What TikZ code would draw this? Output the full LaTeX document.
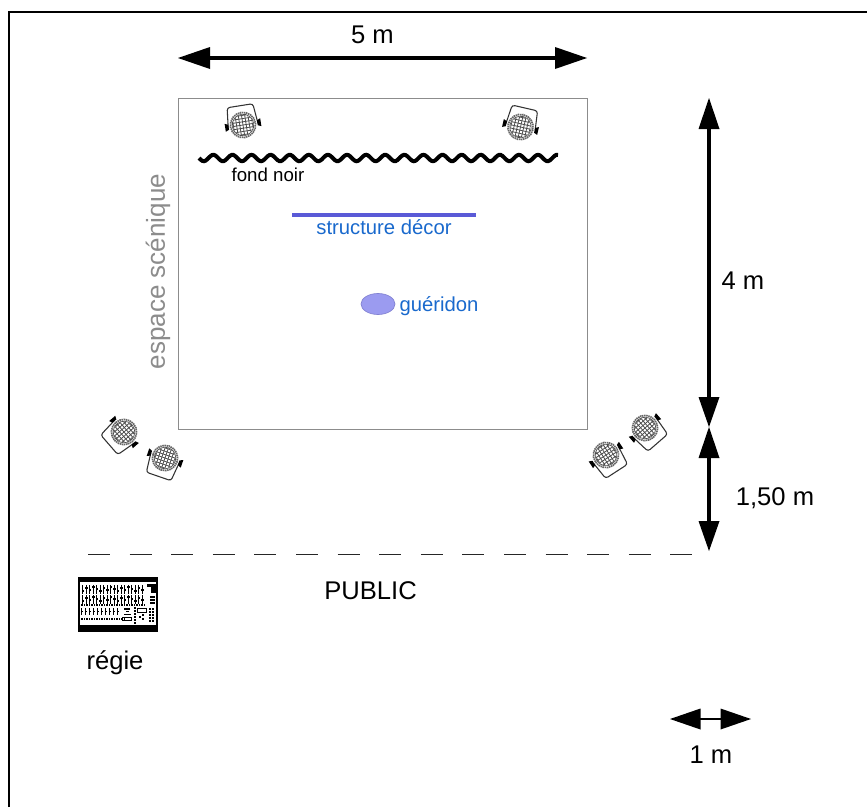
\documentclass[tikz,border=0pt]{standalone}
\usepackage{fontspec}
\setmainfont{Liberation Sans}
\newcommand{\W}{867}
\newcommand{\Hh}{807}
\definecolor{bluetext}{RGB}{25,105,205}
\tikzset{
 x=0.75pt,y=-0.75pt,
 lab/.style={font=\fontsize{19.2pt}{22pt}\selectfont,inner sep=0pt},
 bluelab/.style={font=\fontsize{15.2pt}{18pt}\selectfont,inner sep=0pt,text=bluetext},
 bigarrow/.style={line width=2.5pt,black},
 head/.style={fill=black,draw=none},
}
% projector: #1 x, #2 y, #3 rotation
\newcommand{\spot}[3]{%
 \begin{scope}[shift={(#1,#2)},rotate=#3]
  \draw[line width=0.8pt,black!80,rounded corners=2pt,fill=white] (-15,0) -- (-13,-19.5) -- (13,-19.5) -- (15,0);
  \fill[white] (0,0) circle (13.5);
  \fill[black] (-18,-4) -- (-14.5,-2.5) -- (-14.5,2.5) -- (-18,4) -- cycle;
  \fill[black] (18,-4) -- (14.5,-2.5) -- (14.5,2.5) -- (18,4) -- cycle;
  \draw[line width=1.3pt,black!60,dash pattern=on 1.1pt off 0.5pt] (0,0) circle (12.6);
  \draw[line width=0.5pt,black!70] (0,0) circle (10.8);
  \begin{scope}
   \clip (0,0) circle (10.2);
   \foreach \k in {-9.6,-6.4,...,9.7} {
     \draw[line width=0.6pt,black!70] (\k,-11) -- (\k,11);
     \draw[line width=0.6pt,black!70] (-11,\k) -- (11,\k);
   }
  \end{scope}
 \end{scope}}
\begin{document}
\begin{tikzpicture}
\useasboundingbox (0,0) rectangle (\W,\Hh);
\fill[white] (0,0) rectangle (\W,\Hh);
% frame
\draw[line width=1.6pt,black] (9.2,807) -- (9.2,12.2) -- (867,12.2);
% stage
\node[draw=black!45,line width=0.9pt,minimum width=408.5*0.75pt,minimum height=331*0.75pt,inner sep=0pt,anchor=north west] (stage) at (178,98) {};
% dimension arrows
\coordinate (a1) at (178,58); \coordinate (a2) at (587,58);
\draw[bigarrow] (205,58) -- (560,58);
\fill[head] (a1) -- (210,47) -- (210,69) -- cycle;
\fill[head] (a2) -- (555,47) -- (555,69) -- cycle;
\node[lab] (t5) at (372.5,35) {5 m};
\coordinate (b1) at (709,98); \coordinate (b2) at (709,427); \coordinate (b3) at (709,551);
\draw[bigarrow] (709,120) -- (709,405);
\fill[head] (b1) -- (698.5,129) -- (719.5,129) -- cycle;
\fill[head] (b2) -- (698.5,397) -- (719.5,397) -- cycle;
\draw[bigarrow] (709,450) -- (709,530);
\fill[head] (b2) -- (698.5,458) -- (719.5,458) -- cycle;
\fill[head] (b3) -- (698.5,521) -- (719.5,521) -- cycle;
\node[lab] (t4) at (743,281) {4 m};
\node[lab] (t15) at (775,498) {1,50 m};
% public line
\coordinate (d1) at (88,554); \coordinate (d2) at (692,554);
\draw[line width=0.75pt,black!85,dash pattern=on 16.5pt off 14.7pt] (d1) -- (d2);
\node[lab] (tp) at (370.5,591) {PUBLIC};
% scale
\coordinate (s1) at (670,719); \coordinate (s2) at (751,719);
\draw[line width=2.2pt] (695,719) -- (726,719);
\fill[head] (s1) -- (700.5,708.5) -- (700.5,729.5) -- cycle;
\fill[head] (s2) -- (720.5,708.5) -- (720.5,729.5) -- cycle;
\node[lab] (t1) at (711,755) {1 m};
% fond noir
\draw[line width=3pt,black,line cap=butt] plot[domain=199:558,samples=220] (\x,{158+3.2*sin((\x-199)/19.1*360)});
\node[font=\fontsize{14pt}{17pt}\selectfont,inner sep=0pt] (tf) at (268,175) {fond noir};
% decor
\draw[line width=2.4pt,color={rgb,255:red,90;green,90;blue,215}] (292,215) -- (476,215);
\node[bluelab] (ts) at (384,227.5) {structure décor};
\fill[fill={rgb,255:red,155;green,155;blue,240}] (378,304) ellipse (17 and 10.5);
\draw[line width=0.5pt,color={rgb,255:red,130;green,130;blue,210}] (378,304) ellipse (17 and 10.5);
\node[bluelab] (tg) at (439,306) {guéridon};
\node[lab,font=\fontsize{19.5pt}{24pt}\selectfont,text=black!45,rotate=90] (te) at (158,271.5) {espace scénique};
% projectors
\spot{243}{125}{9}
\spot{520.5}{127}{-13}
\spot{124}{432}{131}
\spot{165}{458}{161}
\spot{645}{428}{-139}
\spot{606}{455}{-147}
% regie
\node[lab] (tr) at (115,663) {régie};
\fill[black] (78,577) rectangle (158,632);
\fill[white] (80,582) rectangle (156,625);
\foreach \y in {589,599} {
 \foreach \x in {82,85.5,...,142} {
  \pgfmathsetmacro{\kn}{\y-1+mod(\x*2,5)-2}
  \fill[black] (\x,\y-4.5) rectangle (\x+1.1,\y+4.5);
  \fill[black] (\x-0.4,\kn) rectangle (\x+2,\kn+1.8);
 }
}
\foreach \x in {81,83.5,...,144} {\fill[black] (\x,603.5) rectangle (\x+1.7,606);}
\foreach \x in {81,85,...,118} {
  \fill[black] (\x,608) rectangle (\x+1.4,615);
  \fill[black] (\x-0.3,610.5) rectangle (\x+2,612);
}
\foreach \x in {81,83.5,...,124} {\fill[black] (\x,618) rectangle (\x+1.6,620);}
% right-hand section of the desk
\fill[black] (147,584) rectangle (156,587);
\fill[black] (151,587) rectangle (156,593);
\foreach \y in {596,599,602} {\fill[black] (150,\y) rectangle (155,\y+2);}
\fill[black] (124,608) rectangle (130,609.5);
\draw[black,line width=0.6pt] (122,617) rectangle (131,620.5);
\draw[black,line width=0.5pt] (126,611) -- (129,611) (124,614) -- (131,614);
\foreach \y in {607,610,...,622} {\fill[black] (133.5,\y) rectangle (135.5,\y+1.8);}
\draw[black,line width=0.6pt] (137,608) rectangle (146,612.5);
\fill[black] (139,616) rectangle (141,618);
\fill[black] (142,614) rectangle (144,616);
\fill[black] (142,618) rectangle (144,620);
\foreach \y in {608,611,...,620} {
 \fill[black] (148.5,\y) rectangle (150.5,\y+1.8);
 \fill[black] (152,\y) rectangle (154,\y+1.8);
}
\end{tikzpicture}
\end{document}
